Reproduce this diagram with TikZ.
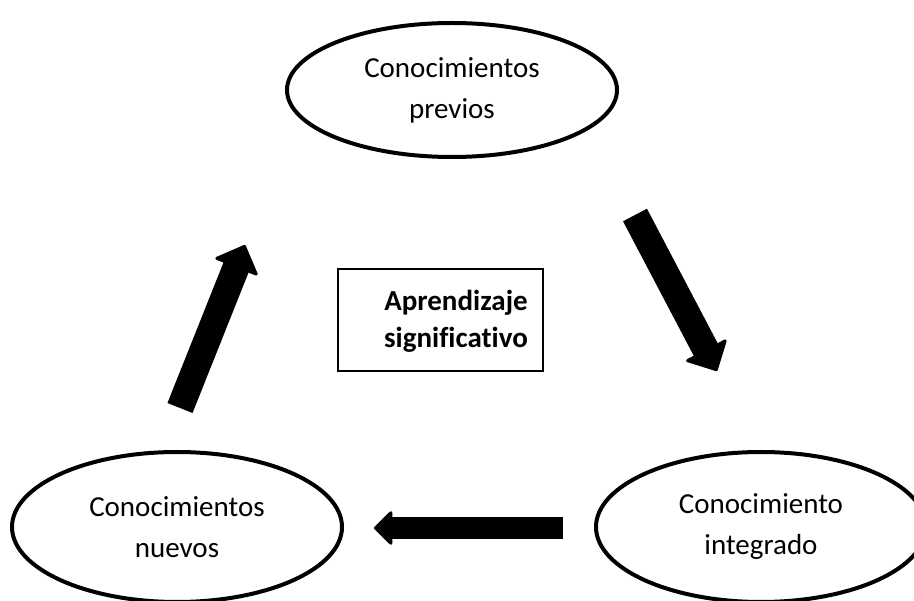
\documentclass[tikz,border=0pt]{standalone}
\usepackage{fontspec}
\setmainfont{Carlito}[Ligatures={NoCommon}]
\usetikzlibrary{arrows.meta,shapes.geometric}
\begin{document}
\begin{tikzpicture}[x=1pt,y=-1pt,
  ell/.style={ellipse, draw=black, line width=4pt, minimum width=330pt, minimum height=#1, inner sep=0pt, align=center, font=\fontsize{29}{41}\selectfont},
  ell/.default=150pt,
  ctext/.style={align=center, font=\fontsize{29}{37}\selectfont\bfseries},
  framebox/.style={draw=black, line width=1.3pt, minimum width=205pt, minimum height=102pt, inner sep=0pt},
  fatarrow/.style={draw=black, line width=#1},
]
\useasboundingbox (0,0) rectangle (914,601);
\node[ell=134pt] (prev) at (452,90) {Conocimientos\\previos};
\node[ell] (nuev) at (177,527) {Conocimientos\\nuevos};
\node[ell] (integ) at (761,527) {Conocimiento\\integrado};
\node[framebox] (box) at (440.5,320) {};
\node[ctext] (boxtext) at (456,321) {Aprendizaje\\significativo};
\coordinate (a1s) at (635,215);
\coordinate (a1e) at (717,371);
\coordinate (a2s) at (180,408);
\coordinate (a2e) at (245,245);
\coordinate (a3s) at (563,528);
\coordinate (a3e) at (374,528);
\draw[fatarrow=27pt, -{Triangle[length=25pt,width=49pt,line width=3pt,round]}] (a1s) -- (a1e);
\draw[fatarrow=27pt, -{Triangle[length=25pt,width=49pt,line width=3pt,round]}] (a2s) -- (a2e);
\draw[fatarrow=22pt, -{Triangle[length=19pt,width=37pt,line width=3pt,round]}] (a3s) -- (a3e);
\end{tikzpicture}
\end{document}
